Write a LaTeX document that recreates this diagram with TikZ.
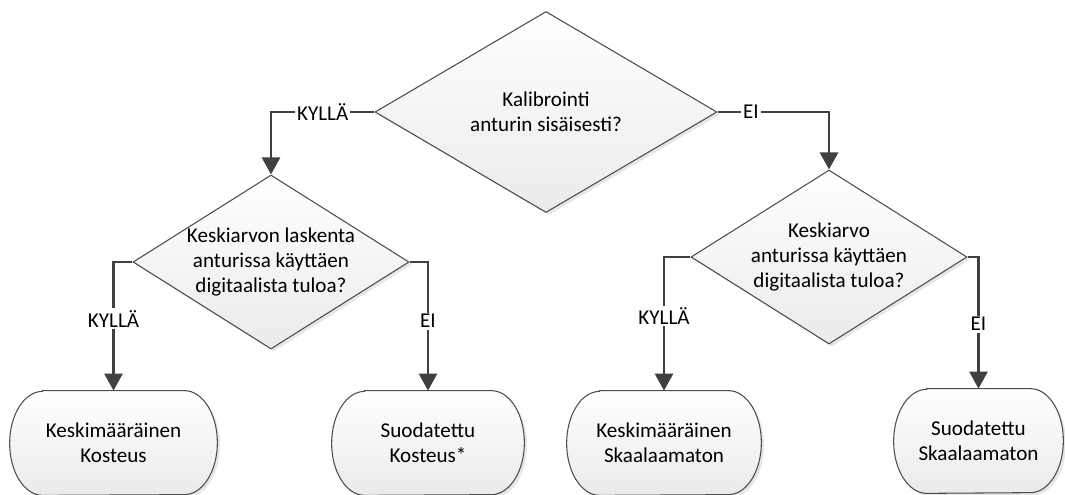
\documentclass[tikz,border=0pt]{standalone}
\usepackage{fontspec}
\setmainfont{Carlito}
\usetikzlibrary{shapes.geometric,arrows.meta,shadows,backgrounds,calc}

\begin{document}
\begin{tikzpicture}[font=\fontsize{12}{14.2}\selectfont,
decision/.style={shape=diamond,draw=black!70,line width=0.6pt,inner sep=0pt,top color=white,bottom color=black!8,drop shadow={shadow xshift=1.5pt,shadow yshift=-1.5pt,opacity=0.2}},
term/.style={inner sep=0pt,minimum height=2.08cm,align=center},
termline/.style={draw=black!70,line width=0.6pt,top color=white,bottom color=black!8,drop shadow={shadow xshift=1.5pt,shadow yshift=-1.5pt,opacity=0.2}},
flow/.style={draw=black!75,line width=1.5pt,-{Triangle[width=0.36cm,length=0.34cm]}},
answer/.style={fill=white,inner sep=1pt}]

\useasboundingbox (0,0) rectangle (21.3,-9.9);

%questions
\node[decision,minimum width=6.84cm,minimum height=4.02cm,label={[align=center]center:Kalibrointi\\anturin sisäisesti?}] (D1) at (10.92,-2.24) {};
\node[decision,minimum width=5.52cm,minimum height=3.48cm,label={[align=center]center:Keskiarvon laskenta\\anturissa käyttäen\\digitaalista tuloa?}] (D2) at (5.42,-5.24) {};
\node[decision,minimum width=5.52cm,minimum height=3.48cm,label={[align=center]center:Keskiarvo\\anturissa käyttäen\\digitaalista tuloa?}] (D3) at (16.58,-5.14) {};

%results
\node[term,minimum width=4.14cm] (B1) at (2.27,-8.86) {Keskimääräinen\\Kosteus};
\node[term,minimum width=3.84cm] (B2) at (8.56,-8.86) {Suodatettu\\Kosteus*};
\node[term,minimum width=3.88cm] (B3) at (13.28,-8.86) {Keskimääräinen\\Skaalaamaton};
\node[term,minimum width=3.38cm] (B4) at (19.57,-8.82) {Suodatettu\\Skaalaamaton};

\begin{scope}[on background layer]
\foreach \bx in {B1,B2,B3,B4}
  \path[termline] ($(\bx.north west)+(0.66,0)$) -- ($(\bx.north east)+(-0.66,0)$)
    arc[start angle=90,end angle=-90,x radius=0.66,y radius=1.04]
    -- ($(\bx.south west)+(0.66,0)$)
    arc[start angle=270,end angle=90,x radius=0.66,y radius=1.04] -- cycle;
\end{scope}

\draw[flow] (D1.west) -| node[answer,pos=0.25] {KYLLÄ} (D2.north);
\draw[flow] (D1.east) -| node[answer,pos=0.15] {EI} (D3.north);

\draw[flow] (D2.west) -| node[answer,pos=0.72] {KYLLÄ} (B1.north);
\draw[flow] (D2.east) -| node[answer,pos=0.73] {EI} (B2.north);
\draw[flow] (D3.west) -| node[answer,pos=0.72] {KYLLÄ} (B3.north);
\draw[flow] (D3.east) -| node[answer,pos=0.755] {EI} (B4.north);
\end{tikzpicture}
\end{document}
